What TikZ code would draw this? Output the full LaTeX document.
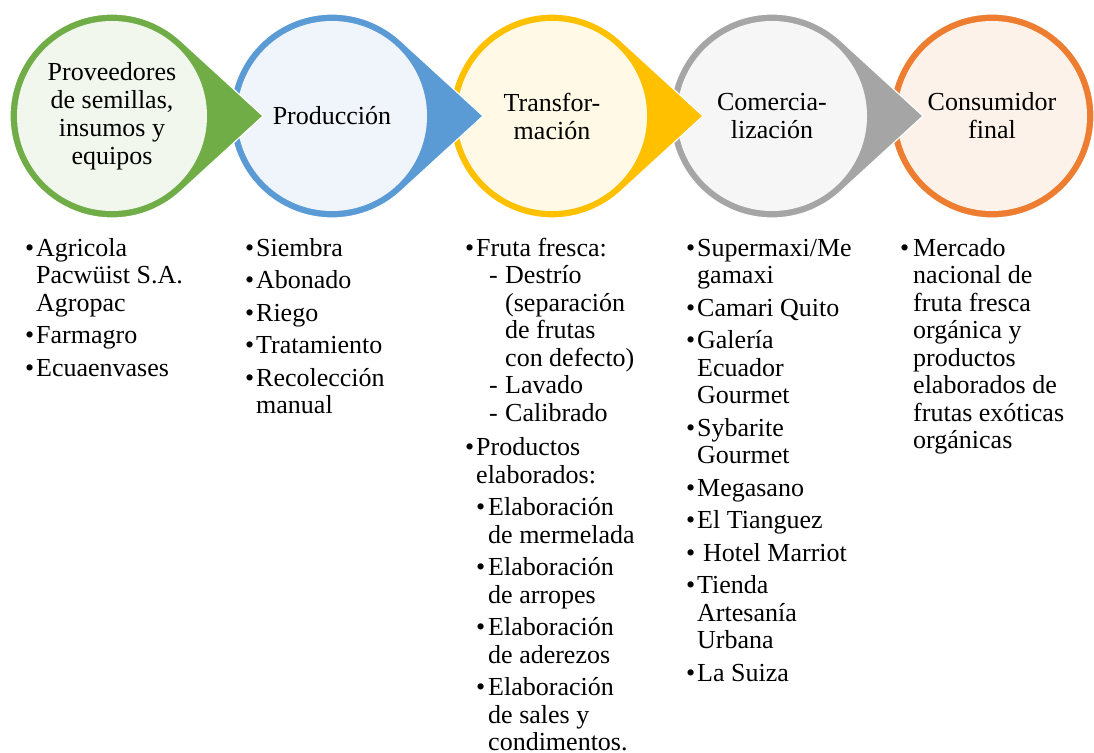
\documentclass[tikz,border=0pt]{standalone}
\usepackage{fontspec}
\setmainfont{Liberation Serif}
\usepackage{tikz}
\usetikzlibrary{positioning,calc}
\definecolor{verde}{HTML}{70AD47}
\definecolor{azul}{HTML}{5B9BD5}
\definecolor{amarillo}{HTML}{FFC000}
\definecolor{gris}{HTML}{A5A5A5}
\definecolor{naranja}{HTML}{ED7D31}
\newcommand{\bul}{\makebox[11pt][l]{\textbullet}}
\newcommand{\ind}{\hspace*{11pt}}
\newcommand{\guion}[1]{\hspace*{24pt}\makebox[16pt][l]{-}#1}
\newcommand{\sub}[1]{\hspace*{40pt}#1}
\newcommand{\subbul}[1]{\hspace*{11pt}\makebox[12pt][l]{\textbullet}#1}
\newcommand{\subind}[1]{\hspace*{23pt}#1}

\begin{document}
\begin{tikzpicture}
[ x=1pt, y=-1pt,
  etapa/.style={ circle, draw=none, inner sep=0pt, minimum size=190pt,
    align=center, font=\fontsize{26}{28}\selectfont
    },
  lista/.style={ anchor=base west, inner sep=0pt,
    font=\fontsize{26}{27.5}\selectfont
    },
  gota/.style={ draw=white, line width=1.2pt }
]
%\draw[help lines] (0,0) grid[step=50] (1094,752);
\useasboundingbox (0,0) rectangle (1094,752);

 \foreach \i/\col/\d/\txt in {5/naranja/102/{Consumidor\\final},
                              4/gris/151/{Comercia-\\lización},
                              3/amarillo/151/{Transfor-\\mación},
                              2/azul/151/{Producción},
                              1/verde/151/{Proveedores\\de semillas,\\insumos y\\equipos}}{
    \pgfmathsetmacro{\cx}{112+220*(\i-1)}
    \pgfmathsetmacro{\ang}{acos(102/\d)}
    \filldraw[gota, fill=\col] (\cx+\d,116) -- ($(\cx,116)+(\ang:102)$)
        arc[start angle=\ang, end angle=360-\ang, radius=102] -- cycle;
    \node[etapa, fill=\col!10] (c\i) at (\cx,116) {\txt};
  }

  \node[lista] (l1) at (25,256) {\begin{tabular}[t]{@{}l@{}}
    \bul Agricola\\ \ind Pacwüist S.A.\\ \ind Agropac\\[5pt]
    \bul Farmagro\\[5pt]
    \bul Ecuaenvases
  \end{tabular}};
  \node[lista] (l2) at (245,256) {\begin{tabular}[t]{@{}l@{}}
    \bul Siembra\\[5pt]
    \bul Abonado\\[5pt]
    \bul Riego\\[5pt]
    \bul Tratamiento\\[5pt]
    \bul Recolección\\ \ind manual
  \end{tabular}};
  \node[lista] (l3) at (465,256) {\begin{tabular}[t]{@{}l@{}}
    \bul Fruta fresca:\\ \guion{Destrío}\\ \sub{(separación}\\ \sub{de frutas}\\
    \sub{con defecto)}\\ \guion{Lavado}\\ \guion{Calibrado}\\[7pt]
    \bul Productos\\ \ind elaborados:\\[5pt]
    \subbul{Elaboración}\\ \subind{de mermelada}\\[5pt]
    \subbul{Elaboración}\\ \subind{de arropes}\\[5pt]
    \subbul{Elaboración}\\ \subind{de aderezos}\\[5pt]
    \subbul{Elaboración}\\ \subind{de sales y}\\ \subind{condimentos.}
  \end{tabular}};
  \node[lista] (l4) at (686,256) {\begin{tabular}[t]{@{}l@{}}
    \bul Supermaxi/Me\\ \ind gamaxi\\[5pt]
    \bul Camari Quito\\[5pt]
    \bul Galería\\ \ind Ecuador\\ \ind Gourmet\\[5pt]
    \bul Sybarite\\ \ind Gourmet\\[5pt]
    \bul Megasano\\[5pt]
    \bul El Tianguez\\[5pt]
    \bul\hspace*{6pt}Hotel Marriot\\[5pt]
    \bul Tienda\\ \ind Artesanía\\ \ind Urbana\\[5pt]
    \bul La Suiza
  \end{tabular}};
  \node[lista] (l5) at (900,256) {\begin{tabular}[t]{@{}l@{}}
    \makebox[13pt][l]{\textbullet}Mercado\\ \hspace*{13pt}nacional de\\
    \hspace*{13pt}fruta fresca\\ \hspace*{13pt}orgánica y\\
    \hspace*{13pt}productos\\ \hspace*{13pt}elaborados de\\
    \hspace*{13pt}frutas exóticas\\ \hspace*{13pt}orgánicas
  \end{tabular}};
\end{tikzpicture}
\end{document}
